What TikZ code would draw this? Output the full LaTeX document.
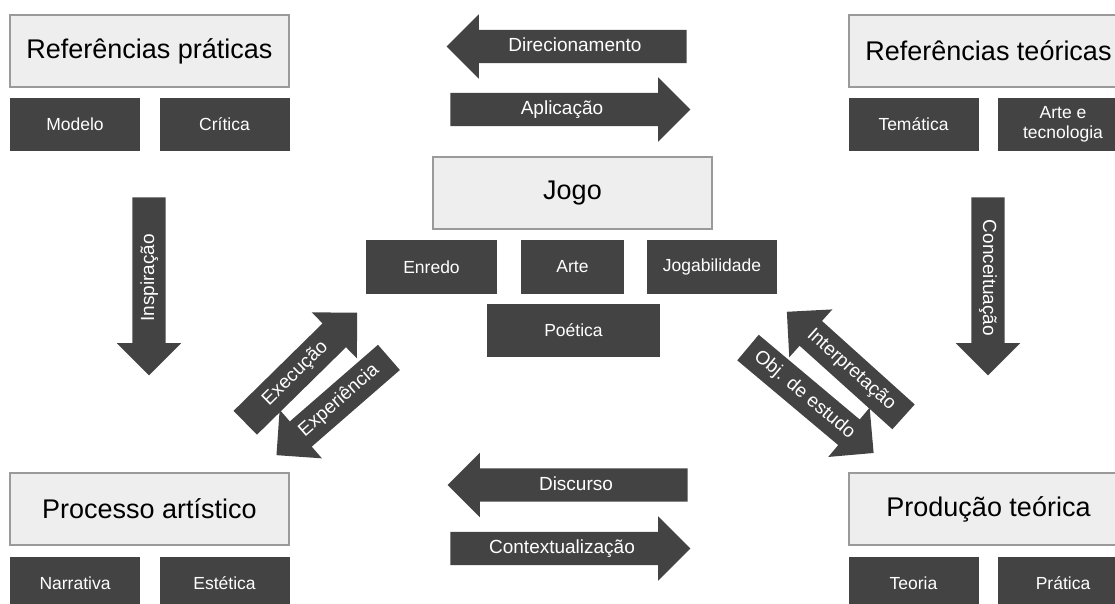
\documentclass[tikz,border=0pt]{standalone}
\usepackage{fontspec}
\setmainfont{Liberation Sans}
\usetikzlibrary{shapes.arrows}
\definecolor{boxgray}{HTML}{EEEEEE}
\definecolor{edgegray}{HTML}{9A9A9A}
\definecolor{darkfill}{HTML}{434343}
\tikzset{
  mainbox/.style={draw=edgegray, line width=1.5pt, fill=boxgray, minimum width=279pt, minimum height=72pt, inner sep=0pt, font=\fontsize{27}{32}\selectfont},
  subbox/.style={fill=darkfill, text=white, minimum width=130pt, minimum height=53pt, inner sep=0pt, align=center, font=\fontsize{17.5}{20}\selectfont},
  blockarrow/.style={single arrow, fill=darkfill, text=white, inner sep=0pt, text height=21.5pt, text depth=11.5pt, single arrow head extend=15.5pt, single arrow tip angle=90, font=\fontsize{19}{22}\selectfont},
}
\begin{document}
\begin{tikzpicture}[x=1pt,y=-1pt]
    \useasboundingbox (0,0) rectangle (1115,604);
    % corners
    \node[mainbox] (refprat) at (149.5,51) {Referências práticas};
    \node[subbox] (modelo) at (75,124.5) {Modelo};
    \node[subbox] (critica) at (224.5,124.5) {Crítica};
    \node[mainbox] (refteo) at (988.5,51) {Referências teóricas};
    \node[subbox] (tematica) at (913.5,124.5) {Temática};
    \node[subbox] (artetec) at (1063,124.5) {Arte e\\tecnologia};
    \node[mainbox] (procart) at (149.5,509) {Processo artístico};
    \node[subbox] (narrativa) at (75,583.5) {Narrativa};
    \node[subbox] (estetica) at (224.5,583.5) {Estética};
    \node[mainbox] (prodteo) at (988.5,509) {Produção teórica};
    \node[subbox] (teoria) at (913.5,583.5) {Teoria};
    \node[subbox] (pratica) at (1063,583.5) {Prática};
    % centre
    \node[mainbox] (jogo) at (572.5,193) {Jogo};
    \node[subbox, minimum width=131pt, minimum height=54pt] (enredo) at (431.5,267) {Enredo};
    \node[subbox, minimum width=103pt, minimum height=54pt] (arte) at (572.5,267) {Arte};
    \node[subbox, minimum height=54pt] (jogabil) at (712,267) {Jogabilidade};
    \node[subbox, minimum width=173pt] (poetica) at (573.5,330.5) {Poética};
    % arrows
    \node[blockarrow, shape border rotate=180, minimum height=240pt] (direc) at (575,46.5) {Direcionamento};
    \node[blockarrow, minimum height=240pt] (aplic) at (562,109.5) {Aplicação};
    \node[blockarrow, shape border rotate=180, minimum height=240pt] (discurso) at (576,485) {Discurso};
    \node[blockarrow, minimum height=240pt] (context) at (562,548.5) {Contextualização};
    \node[blockarrow, rotate=90, shape border rotate=180, minimum height=178pt] (inspir) at (149,278) {Inspiração};
    \node[blockarrow, rotate=-90, minimum height=178pt] (conceit) at (988,278) {Conceituação};
    \node[blockarrow, rotate=44.5, minimum height=157pt] (execucao) at (295.3,373.6) {Execução};
    \node[blockarrow, rotate=41, shape border rotate=180, minimum height=149pt] (experien) at (339,400.8) {Experiência};
    \node[blockarrow, rotate=-42, shape border rotate=180, minimum height=157pt] (interp) at (851.4,369.9) {Interpretação};
    \node[blockarrow, rotate=-40, minimum height=164pt] (objest) at (804.4,394.9) {Obj. de estudo};
\end{tikzpicture}
\end{document}
